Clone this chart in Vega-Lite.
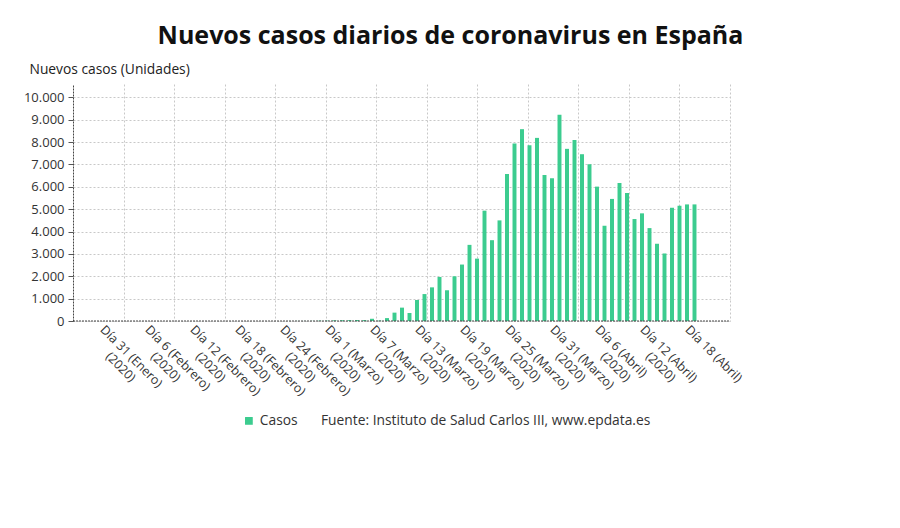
{
  "$schema": "https://vega.github.io/schema/vega-lite/v6.json",
  "width": 657,
  "height": 237,
  "autosize": {"type": "none"},
  "padding": {"left": 73, "top": 84, "right": 170, "bottom": 207},
  "background": "white",
  "title": {
    "text": "Nuevos casos diarios de coronavirus en España",
    "fontSize": 25,
    "fontWeight": "bold",
    "font": "Open Sans",
    "color": "#111111",
    "anchor": "middle",
    "dx": 49,
    "offset": 13
  },
  "data": {
    "values": [
      {"fecha": "2020-01-31", "casos": 1},
      {"fecha": "2020-02-01", "casos": 0},
      {"fecha": "2020-02-02", "casos": 0},
      {"fecha": "2020-02-03", "casos": 0},
      {"fecha": "2020-02-04", "casos": 0},
      {"fecha": "2020-02-05", "casos": 0},
      {"fecha": "2020-02-06", "casos": 0},
      {"fecha": "2020-02-07", "casos": 0},
      {"fecha": "2020-02-08", "casos": 0},
      {"fecha": "2020-02-09", "casos": 1},
      {"fecha": "2020-02-10", "casos": 0},
      {"fecha": "2020-02-11", "casos": 0},
      {"fecha": "2020-02-12", "casos": 0},
      {"fecha": "2020-02-13", "casos": 0},
      {"fecha": "2020-02-14", "casos": 0},
      {"fecha": "2020-02-15", "casos": 0},
      {"fecha": "2020-02-16", "casos": 0},
      {"fecha": "2020-02-17", "casos": 0},
      {"fecha": "2020-02-18", "casos": 0},
      {"fecha": "2020-02-19", "casos": 0},
      {"fecha": "2020-02-20", "casos": 0},
      {"fecha": "2020-02-21", "casos": 0},
      {"fecha": "2020-02-22", "casos": 0},
      {"fecha": "2020-02-23", "casos": 0},
      {"fecha": "2020-02-24", "casos": 2},
      {"fecha": "2020-02-25", "casos": 4},
      {"fecha": "2020-02-26", "casos": 3},
      {"fecha": "2020-02-27", "casos": 5},
      {"fecha": "2020-02-28", "casos": 15},
      {"fecha": "2020-02-29", "casos": 16},
      {"fecha": "2020-03-01", "casos": 30},
      {"fecha": "2020-03-02", "casos": 35},
      {"fecha": "2020-03-03", "casos": 38},
      {"fecha": "2020-03-04", "casos": 45},
      {"fecha": "2020-03-05", "casos": 40},
      {"fecha": "2020-03-06", "casos": 100},
      {"fecha": "2020-03-07", "casos": 20},
      {"fecha": "2020-03-08", "casos": 130},
      {"fecha": "2020-03-09", "casos": 374},
      {"fecha": "2020-03-10", "casos": 598},
      {"fecha": "2020-03-11", "casos": 359},
      {"fecha": "2020-03-12", "casos": 940},
      {"fecha": "2020-03-13", "casos": 1205},
      {"fecha": "2020-03-14", "casos": 1505},
      {"fecha": "2020-03-15", "casos": 1970},
      {"fecha": "2020-03-16", "casos": 1375},
      {"fecha": "2020-03-17", "casos": 2000},
      {"fecha": "2020-03-18", "casos": 2525},
      {"fecha": "2020-03-19", "casos": 3405},
      {"fecha": "2020-03-20", "casos": 2790},
      {"fecha": "2020-03-21", "casos": 4935},
      {"fecha": "2020-03-22", "casos": 3615},
      {"fecha": "2020-03-23", "casos": 4500},
      {"fecha": "2020-03-24", "casos": 6575},
      {"fecha": "2020-03-25", "casos": 7935},
      {"fecha": "2020-03-26", "casos": 8580},
      {"fecha": "2020-03-27", "casos": 7860},
      {"fecha": "2020-03-28", "casos": 8190},
      {"fecha": "2020-03-29", "casos": 6530},
      {"fecha": "2020-03-30", "casos": 6385},
      {"fecha": "2020-03-31", "casos": 9220},
      {"fecha": "2020-04-01", "casos": 7700},
      {"fecha": "2020-04-02", "casos": 8100},
      {"fecha": "2020-04-03", "casos": 7460},
      {"fecha": "2020-04-04", "casos": 7010},
      {"fecha": "2020-04-05", "casos": 6010},
      {"fecha": "2020-04-06", "casos": 4260},
      {"fecha": "2020-04-07", "casos": 5460},
      {"fecha": "2020-04-08", "casos": 6170},
      {"fecha": "2020-04-09", "casos": 5725},
      {"fecha": "2020-04-10", "casos": 4560},
      {"fecha": "2020-04-11", "casos": 4815},
      {"fecha": "2020-04-12", "casos": 4155},
      {"fecha": "2020-04-13", "casos": 3455},
      {"fecha": "2020-04-14", "casos": 3020},
      {"fecha": "2020-04-15", "casos": 5065},
      {"fecha": "2020-04-16", "casos": 5155},
      {"fecha": "2020-04-17", "casos": 5215},
      {"fecha": "2020-04-18", "casos": 5215}
    ]
  },
  "layer": [
    {
      "mark": {"type": "bar", "color": "#3ccc8f", "width": {"band": 0.66}},
      "encoding": {
        "x": {
          "field": "fecha",
          "type": "temporal",
          "timeUnit": "utcyearmonthdate",
          "scale": {
            "type": "utc",
            "domain": [
              {"year": 2020, "month": 1, "date": 26, "hours": 16, "minutes": 48, "utc": true},
              {"year": 2020, "month": 4, "date": 23, "hours": 7, "minutes": 12, "utc": true}
            ]
          },
          "axis": {
            "title": null,
            "values": [
              {"year": 2020, "month": 1, "date": 31, "hours": 3, "utc": true},
              {"year": 2020, "month": 2, "date": 6, "hours": 3, "utc": true},
              {"year": 2020, "month": 2, "date": 12, "hours": 3, "utc": true},
              {"year": 2020, "month": 2, "date": 18, "hours": 3, "utc": true},
              {"year": 2020, "month": 2, "date": 24, "hours": 3, "utc": true},
              {"year": 2020, "month": 3, "date": 1, "hours": 3, "utc": true},
              {"year": 2020, "month": 3, "date": 7, "hours": 3, "utc": true},
              {"year": 2020, "month": 3, "date": 13, "hours": 3, "utc": true},
              {"year": 2020, "month": 3, "date": 19, "hours": 3, "utc": true},
              {"year": 2020, "month": 3, "date": 25, "hours": 3, "utc": true},
              {"year": 2020, "month": 3, "date": 31, "hours": 3, "utc": true},
              {"year": 2020, "month": 4, "date": 6, "hours": 3, "utc": true},
              {"year": 2020, "month": 4, "date": 12, "hours": 3, "utc": true},
              {"year": 2020, "month": 4, "date": 18, "hours": 3, "utc": true}
            ],
            "labelExpr": "(utcmonth(datum.value) == 3 && utcdate(datum.value) == 18) ? 'Día 18 (Abril)' : ['Día ' + utcdate(datum.value) + ' (' + ['Enero', 'Febrero', 'Marzo', 'Abril'][utcmonth(datum.value)] + ')', '\u200b\u00a0\u00a0\u00a0\u00a0\u00a0\u00a0\u00a0(2020)']",
            "labelAngle": 45,
            "labelAlign": "left",
            "labelBaseline": "top",
            "labelFontSize": 12.5,
            "labelLineHeight": 15,
            "labelColor": "#333333",
            "labelPadding": 2,
            "labelOverlap": false,
            "labelBound": false,
            "labelFlush": false,
            "ticks": false,
            "domain": false,
            "grid": false
          }
        },
        "y": {
          "field": "casos",
          "type": "quantitative",
          "scale": {"domain": [0, 10600], "nice": false},
          "axis": {
            "title": "Nuevos casos (Unidades)",
            "titleAngle": 0,
            "titleX": -44,
            "titleY": -11,
            "titleAlign": "left",
            "titleBaseline": "alphabetic",
            "titleFontSize": 13.8,
            "titleFontWeight": "normal",
            "titleColor": "#222222",
            "values": [0, 1000, 2000, 3000, 4000, 5000, 6000, 7000, 8000, 9000, 10000],
            "labelExpr": "replace(format(datum.value, ','), ',', '.')",
            "labelFontSize": 13,
            "labelColor": "#333333",
            "labelPadding": 4,
            "labelOverlap": false,
            "tickSize": 5,
            "tickColor": "#555555",
            "domainColor": "#444444",
            "domainDash": [2, 1],
            "grid": true,
            "gridColor": "#c8c8c8",
            "gridDash": [2, 2]
          }
        },
        "color": {
          "datum": "Casos",
          "type": "nominal",
          "scale": {"range": ["#3ccc8f"]},
          "legend": {
            "orient": "none",
            "legendX": 169,
            "legendY": 330,
            "direction": "horizontal",
            "title": "Fuente: Instituto de Salud Carlos III, www.epdata.es",
            "titleOrient": "right",
            "titleAnchor": "middle",
            "titleBaseline": "middle",
            "titlePadding": 23,
            "titleLimit": 1000,
            "titleFontWeight": "normal",
            "titleFontSize": 13.8,
            "titleColor": "#333333",
            "labelFontSize": 13.8,
            "labelColor": "#333333",
            "labelOffset": 4,
            "symbolType": "square",
            "symbolSize": 60,
            "symbolOpacity": 1,
            "symbolStrokeWidth": 0
          }
        }
      }
    },
    {
      "data": {"values": [{}]},
      "mark": {"type": "rule", "color": "#444444", "strokeDash": [2, 1], "strokeWidth": 1},
      "encoding": {
        "x": {
          "datum": 0,
          "type": "quantitative",
          "scale": {"domain": [0, 13], "nice": false},
          "axis": {
            "orient": "bottom",
            "title": null,
            "values": [1, 2, 3, 4, 5, 6, 7, 8, 9, 10, 11, 12, 13],
            "labels": false,
            "ticks": false,
            "domain": false,
            "grid": true,
            "gridColor": "#c8c8c8",
            "gridDash": [2, 2]
          }
        },
        "x2": {"datum": 13},
        "y": {
          "datum": 0,
          "type": "quantitative",
          "axis": {
            "title": "Nuevos casos (Unidades)",
            "titleAngle": 0,
            "titleX": -44,
            "titleY": -11,
            "titleAlign": "left",
            "titleBaseline": "alphabetic",
            "titleFontSize": 13.8,
            "titleFontWeight": "normal",
            "titleColor": "#222222",
            "values": [0, 1000, 2000, 3000, 4000, 5000, 6000, 7000, 8000, 9000, 10000],
            "labelExpr": "replace(format(datum.value, ','), ',', '.')",
            "labelFontSize": 13,
            "labelColor": "#333333",
            "labelPadding": 4,
            "labelOverlap": false,
            "tickSize": 5,
            "tickColor": "#555555",
            "domainColor": "#444444",
            "domainDash": [2, 1],
            "grid": true,
            "gridColor": "#c8c8c8",
            "gridDash": [2, 2]
          }
        }
      }
    }
  ],
  "resolve": {"scale": {"x": "independent"}},
  "config": {
    "font": "Open Sans",
    "view": {"stroke": null}
  }
}
